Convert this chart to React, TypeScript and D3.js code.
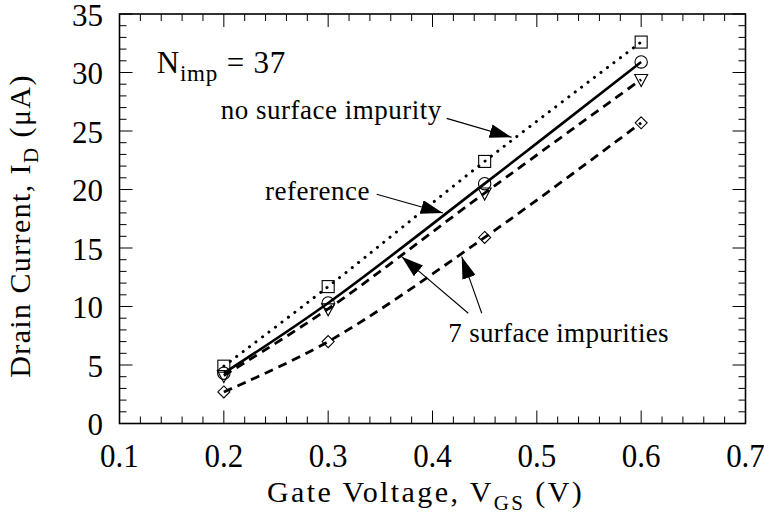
import * as d3 from "d3";

// gate voltage samples (V)
const vgs = [0.2, 0.3, 0.45, 0.6];
// drain current (uA) per series
const noSurface = [4.9, 11.7, 22.4, 32.6];
const reference = [4.3, 10.3, 20.5, 30.9];
const surfaceA = [4.1, 9.8, 19.7, 29.4];
const surfaceB = [2.7, 7.0, 15.9, 25.7];

const xTicks = [0.1, 0.2, 0.3, 0.4, 0.5, 0.6, 0.7];
const yTicks = [0, 5, 10, 15, 20, 25, 30, 35];

const W = 764, H = 517;
const margin = { top: 14, right: 18.5, bottom: 93.5, left: 119.5 };
const FONT = "'Liberation Serif', 'Times New Roman', serif";

const x = d3.scaleLinear().domain([0.1, 0.7]).range([margin.left, W - margin.right]);
const y = d3.scaleLinear().domain([0, 35]).range([H - margin.bottom, margin.top]);

const line = d3.line<[number, number]>()
  .x((d) => x(d[0]))
  .y((d) => y(d[1]))
  .curve(d3.curveCatmullRom.alpha(0.5));

const pts = (vals: number[]) => vgs.map((v, i) => [v, vals[i]] as [number, number]);

// arrows in data units: [fromX, fromY, toX, toY]
const arrows: [number, number, number, number][] = [
  [0.4136, 26.08, 0.4759, 24.46],
  [0.3465, 19.59, 0.41, 17.99],
  [0.4343, 9.42, 0.3705, 14.26],
  [0.4472, 9.42, 0.428, 14.26],
];

export default function App() {
  const x0 = x(0.1), x1 = x(0.7), y0 = y(0), y1 = y(35);
  const xMinor = d3.range(0.1, 0.7001, 0.02);
  const yMinor = d3.range(0, 35.001, 1);
  const isMajorX = (v: number) => xTicks.some((t) => Math.abs(t - v) < 1e-6);
  const isMajorY = (v: number) => yTicks.includes(Math.round(v * 1000) / 1000);

  return (
    <svg width={W} height={H} style={{ position: "absolute", left: 0, top: 0, background: "#fff" }}
      fontFamily={FONT}>
      <defs>
        <marker id="ah" markerUnits="userSpaceOnUse" markerWidth={22} markerHeight={14}
          refX={22} refY={7} orient="auto">
          <path d="M0,0 L22,7 L0,14 Z" fill="#000" />
        </marker>
      </defs>

      {/* ticks, inward on all four sides */}
      <g stroke="#000" strokeWidth={1}>
        {xMinor.map((v, i) => {
          const len = isMajorX(v) ? 13 : 7;
          return (
            <g key={"xt" + i}>
              <line x1={x(v)} x2={x(v)} y1={y0} y2={y0 - len} />
              <line x1={x(v)} x2={x(v)} y1={y1} y2={y1 + len} />
            </g>
          );
        })}
        {yMinor.map((v, i) => {
          const len = isMajorY(v) ? 13 : 7;
          return (
            <g key={"yt" + i}>
              <line x1={x0} x2={x0 + len} y1={y(v)} y2={y(v)} />
              <line x1={x1} x2={x1 - len} y1={y(v)} y2={y(v)} />
            </g>
          );
        })}
      </g>
      <rect x={x0} y={y1} width={x1 - x0} height={y0 - y1} fill="none" stroke="#000" strokeWidth={1.6} />

      {/* tick labels */}
      {xTicks.map((t) => (
        <text key={"xl" + t} x={x(t)} y={467} fontSize={31} textAnchor="middle"
          transform={`translate(0,467) scale(1,1.08) translate(0,-467)`}>{t.toFixed(1)}</text>
      ))}
      {yTicks.map((t) => (
        <text key={"yl" + t} x={103} y={y(t) + 11.5} fontSize={31} textAnchor="end">{t}</text>
      ))}

      {/* axis titles */}
      <text x={(x0 + x1) / 2 - 7} y={502} fontSize={30} letterSpacing={2.4} textAnchor="middle">
        Gate Voltage, V<tspan fontSize={21} dy={8}>GS</tspan><tspan dy={-8}> (V)</tspan>
      </text>
      <text transform={`translate(30,226) rotate(-90)`} fontSize={30} letterSpacing={1.4} textAnchor="middle">
        Drain Current, I<tspan fontSize={21} dy={8}>D</tspan><tspan dy={-8}> (μA)</tspan>
      </text>

      {/* series lines */}
      <path d={line(pts(noSurface)) ?? ""} fill="none" stroke="#000" strokeWidth={3}
        strokeDasharray="0.1,8" strokeLinecap="round" />
      <path d={line(pts(reference)) ?? ""} fill="none" stroke="#000" strokeWidth={2.6} />
      <path d={line(pts(surfaceA)) ?? ""} fill="none" stroke="#000" strokeWidth={2.8} strokeDasharray="9,6" />
      <path d={line(pts(surfaceB)) ?? ""} fill="none" stroke="#000" strokeWidth={2.8} strokeDasharray="9,6" />

      {/* markers */}
      <g fill="none" stroke="#000" strokeWidth={1.1}>
        {vgs.map((v, i) => (
          <rect key={"sq" + i} x={x(v) - 6} y={y(noSurface[i]) - 6} width={12} height={12} />
        ))}
        {vgs.map((v, i) => (
          <circle key={"ci" + i} cx={x(v)} cy={y(reference[i])} r={6.2} />
        ))}
        {vgs.map((v, i) => {
          const cx = x(v), cy = y(surfaceA[i]);
          return <path key={"tr" + i} d={`M${cx - 6.5},${cy - 5} L${cx + 6.5},${cy - 5} L${cx},${cy + 7} Z`} />;
        })}
        {vgs.map((v, i) => {
          const cx = x(v), cy = y(surfaceB[i]);
          return <path key={"di" + i} d={`M${cx},${cy - 6} L${cx + 6},${cy} L${cx},${cy + 6} L${cx - 6},${cy} Z`} />;
        })}
      </g>

      {/* annotations */}
      <text x={x(0.1357)} y={y(29.96)} fontSize={31} letterSpacing={0.8}>
        N<tspan fontSize={23} dy={8}>imp</tspan><tspan dy={-8}> = 37</tspan>
      </text>
      <text x={x(0.197)} y={y(26.0)} fontSize={27} letterSpacing={0.5}>no surface impurity</text>
      <text x={x(0.2395)} y={y(19.1)} fontSize={27} letterSpacing={0.5}>reference</text>
      <text x={x(0.4152)} y={y(6.99)} fontSize={27} letterSpacing={0.3}>7 surface impurities</text>
      {arrows.map((a, i) => (
        <line key={"ar" + i} x1={x(a[0])} y1={y(a[1])} x2={x(a[2])} y2={y(a[3])}
          stroke="#000" strokeWidth={1.1} markerEnd="url(#ah)" />
      ))}
    </svg>
  );
}
